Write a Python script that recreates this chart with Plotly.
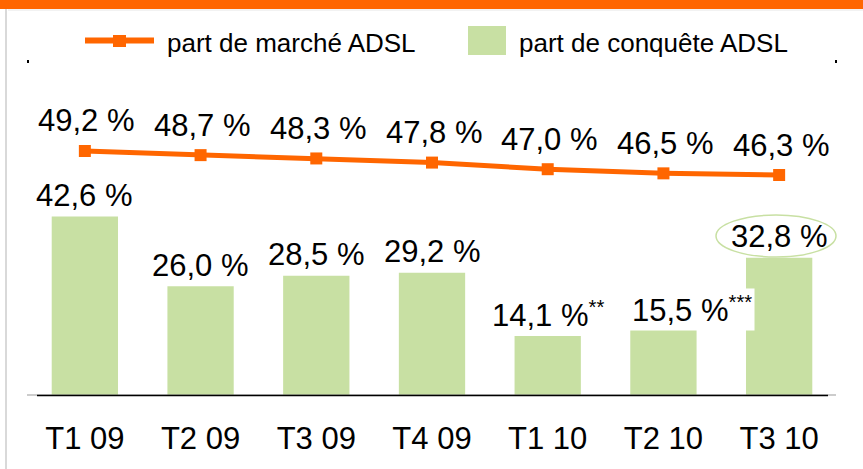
import plotly.graph_objects as go

categories = ["T1 09", "T2 09", "T3 09", "T4 09", "T1 10", "T2 10", "T3 10"]
part_marche = [49.2, 48.7, 48.3, 47.8, 47.0, 46.5, 46.3]
part_conquete = [42.6, 26.0, 28.5, 29.2, 14.1, 15.5, 32.8]
conquete_suffix = ["", "", "", "", "**", "***", ""]
series_names = ["part de marché ADSL", "part de conquête ADSL"]

ORANGE = "#FF6600"
GREEN = "#C8E0A3"
FONT = "Liberation Sans, Arial, sans-serif"

W, H = 863, 469
L, R, T, B = 27, 26, 60, 74
PW, PH = W - L - R, H - T - B


def px(x):
    return (x - L) / PW


def py(y):
    return (H - B - y) / PH


def fmt(v):
    return f"{v:.1f}".replace(".", ",") + " %"


fig = go.Figure()
fig.add_trace(go.Bar(
    x=categories, y=part_conquete, name=series_names[1],
    marker=dict(color=GREEN, line=dict(width=0)), showlegend=False,
))
fig.add_trace(go.Scatter(
    x=categories, y=part_marche, name=series_names[0], yaxis="y2",
    mode="lines+markers", line=dict(color=ORANGE, width=5),
    marker=dict(symbol="square", size=12, color=ORANGE), showlegend=False,
))

label_xshift = [0, 0, 0, 0, 0, 29, 0]
ann = []
for c, v, s, xs in zip(categories, part_conquete, conquete_suffix, label_xshift):
    t = fmt(v) + (f'<span style="font-size:29px"><sup>{s}</sup></span>' if s else "")
    a = dict(x=c, y=v, xref="x", yref="y", text=t, showarrow=False,
             yanchor="middle", yshift=21, xshift=xs,
             font=dict(size=31, color="black", family=FONT))
    if s:
        a["bgcolor"] = "white"
        a["borderpad"] = 2
    ann.append(a)
for c, v in zip(categories, part_marche):
    ann.append(dict(x=c, y=v, xref="x", yref="y2", text=fmt(v), showarrow=False,
                    yanchor="middle", yshift=30, xshift=2,
                    font=dict(size=31, color="black", family=FONT)))
# legend texts
ann.append(dict(x=px(165), y=py(43), xref="paper", yref="paper", text=series_names[0],
                showarrow=False, xanchor="left", yanchor="middle",
                font=dict(size=26, color="black", family=FONT)))
ann.append(dict(x=px(517), y=py(43), xref="paper", yref="paper", text=series_names[1],
                showarrow=False, xanchor="left", yanchor="middle",
                font=dict(size=26, color="black", family=FONT)))

shapes = [
    # top orange band
    dict(type="rect", xref="paper", yref="paper", x0=px(0), x1=px(W), y0=py(0), y1=py(9),
         fillcolor=ORANGE, line=dict(width=0), layer="above"),
    dict(type="line", xref="paper", yref="paper", x0=px(8), x1=px(W), y0=py(10), y1=py(10),
         line=dict(color="#e6e6e6", width=1)),
    # left gray border
    dict(type="line", xref="paper", yref="paper", x0=px(6), x1=px(6), y0=py(9), y1=py(H),
         line=dict(color="#d9d9d9", width=2)),
    # small corner dots
    dict(type="rect", xref="paper", yref="paper", x0=px(27), x1=px(29), y0=py(60), y1=py(63),
         fillcolor="black", line=dict(width=0)),
    dict(type="rect", xref="paper", yref="paper", x0=px(835), x1=px(837), y0=py(60), y1=py(63),
         fillcolor="black", line=dict(width=0)),
    # axis baseline
    dict(type="line", xref="paper", yref="paper", x0=px(27), x1=px(836), y0=py(395), y1=py(395),
         line=dict(color="#999999", width=1)),
    dict(type="line", xref="paper", yref="paper", x0=px(37), x1=px(828), y0=py(395.5), y1=py(395.5),
         line=dict(color="black", width=1.5)),
    # legend symbols
    dict(type="line", xref="paper", yref="paper", x0=px(85), x1=px(154), y0=py(40.5), y1=py(40.5),
         line=dict(color=ORANGE, width=6)),
    dict(type="rect", xref="paper", yref="paper", x0=px(113), x1=px(126), y0=py(35), y1=py(47),
         fillcolor=ORANGE, line=dict(width=0)),
    dict(type="rect", xref="paper", yref="paper", x0=px(468), x1=px(506), y0=py(26), y1=py(55),
         fillcolor=GREEN, line=dict(width=0)),
    # highlight ellipse around last value
    dict(type="circle", xref="paper", yref="paper", x0=px(716), x1=px(836), y0=py(257), y1=py(215),
         line=dict(color=GREEN, width=1.5), fillcolor="rgba(0,0,0,0)"),
]

fig.update_layout(
    width=W, height=H,
    margin=dict(l=L, r=R, t=T, b=B, pad=0),
    paper_bgcolor="white", plot_bgcolor="white",
    bargap=0.427,
    showlegend=False,
    hovermode=False,
    xaxis=dict(type="category", range=[-0.5, 6.5], showgrid=False, zeroline=False,
               showline=False, ticks="", ticklabelstandoff=22,
               tickfont=dict(size=31, color="black", family=FONT)),
    yaxis=dict(range=[0, 80], visible=False, showgrid=False, zeroline=False),
    yaxis2=dict(range=[19.73, 60.19], overlaying="y", side="right", visible=False,
                showgrid=False, zeroline=False),
    annotations=ann,
    shapes=shapes,
)

fig.write_html(
    "out.html",
    config={"displayModeBar": False},
    post_script="document.body.style.margin='0';document.body.style.padding='0';",
)
